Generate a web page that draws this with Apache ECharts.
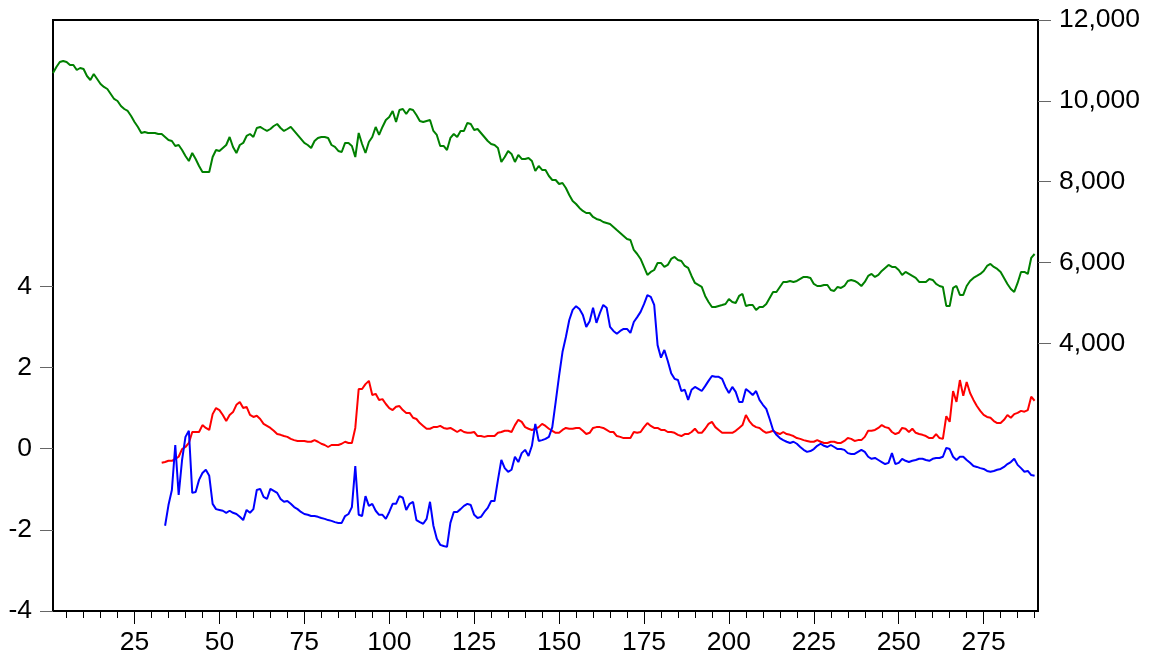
<!DOCTYPE html>
<html>
<head>
<meta charset="utf-8">
<script src="https://cdn.jsdelivr.net/npm/echarts@6.0.0/dist/echarts.min.js"></script>
<style>
html,body{margin:0;padding:0;background:#fff;}
#chart{width:1151px;height:659px;}
</style>
</head>
<body>
<div id="chart"></div>
<script>
// Observation numbers 1..291 on the category axis
const categories = Array.from({length: 291}, (_, i) => String(i + 1));

// Left-axis tick labels and right-axis tick labels
const leftTicks = [-4, -2, 0, 2, 4];
const rightTicks = [4000, 6000, 8000, 10000, 12000];

// Green series (right axis), observations 1..290
const greenValues = [
10688,10837,10960,10985,10960,10886,10886,10762,10812,10787,
10614,10515,10664,10540,10416,10342,10292,10168,10045,9995,
9871,9797,9748,9624,9476,9352,9204,9228,9204,9204,
9204,9178,9178,9104,9030,9005,8882,8906,8782,8634,
8510,8708,8560,8387,8238,8238,8238,8609,8782,8758,
8832,8906,9104,8856,8708,8906,8956,9129,9178,9104,
9327,9352,9302,9253,9302,9376,9426,9327,9253,9302,
9352,9253,9154,9055,8956,8906,8832,9005,9080,9104,
9104,9080,8906,8857,8758,8733,8956,8956,8882,8609,
9203,8931,8708,8980,9104,9352,9154,9352,9525,9599,
9748,9475,9772,9797,9673,9797,9772,9649,9500,9475,
9500,9525,9253,9154,8882,8882,8782,9080,9178,9104,
9253,9253,9451,9426,9278,9302,9203,9104,9005,8931,
8906,8832,8486,8609,8758,8684,8486,8659,8560,8560,
8584,8510,8263,8387,8288,8288,8139,8040,8040,7941,
7966,7842,7669,7520,7446,7347,7273,7223,7223,7124,
7075,7050,7000,6976,6951,6877,6802,6728,6654,6580,
6555,6308,6208,6085,5887,5689,5763,5812,5986,5986,
5887,5936,6085,6134,6060,6035,5912,5862,5664,5491,
5441,5392,5169,5020,4897,4897,4922,4946,4971,5095,
5020,4996,5169,5218,4922,4946,4946,4822,4897,4897,
4971,5120,5268,5268,5392,5516,5516,5540,5516,5540,
5590,5640,5640,5615,5466,5416,5416,5441,5441,5318,
5293,5392,5367,5416,5540,5565,5540,5491,5416,5516,
5664,5714,5640,5689,5788,5862,5936,5887,5887,5812,
5689,5763,5714,5664,5615,5516,5516,5516,5590,5565,
5466,5416,5392,4922,4922,5367,5416,5194,5194,5416,
5540,5615,5664,5714,5788,5912,5961,5887,5837,5763,
5615,5466,5342,5268,5491,5763,5763,5714,6110,6208
];

// Red series (left axis), starts at observation 33
const redStart = 33;
const redValues = [
-0.35,-0.33,-0.30,-0.30,-0.25,-0.20,-0.01,0.04,
0.14,0.41,0.41,0.41,0.58,0.51,0.46,0.85,1.00,0.95,
0.83,0.68,0.83,0.90,1.08,1.15,1.00,1.03,0.83,0.78,
0.81,0.73,0.61,0.56,0.51,0.44,0.36,0.34,0.31,0.29,
0.24,0.21,0.19,0.19,0.19,0.17,0.17,0.21,0.17,0.12,
0.09,0.04,0.09,0.09,0.09,0.12,0.17,0.14,0.14,0.51,
1.47,1.47,1.59,1.67,1.32,1.35,1.20,1.22,1.10,1.00,
0.95,1.03,1.05,0.95,0.88,0.88,0.76,0.73,0.63,0.56,
0.49,0.49,0.53,0.53,0.56,0.51,0.49,0.51,0.46,0.41,
0.46,0.41,0.39,0.39,0.41,0.31,0.31,0.29,0.31,0.31,
0.31,0.39,0.41,0.44,0.44,0.41,0.58,0.71,0.66,0.53,
0.49,0.46,0.49,0.53,0.61,0.56,0.49,0.44,0.39,0.39,
0.46,0.51,0.49,0.49,0.51,0.51,0.44,0.36,0.39,0.51,
0.53,0.53,0.51,0.46,0.41,0.41,0.31,0.29,0.26,0.26,
0.26,0.41,0.39,0.41,0.53,0.63,0.56,0.51,0.51,0.46,
0.46,0.41,0.41,0.39,0.34,0.31,0.36,0.36,0.41,0.49,
0.39,0.39,0.49,0.61,0.66,0.53,0.46,0.39,0.39,0.39,
0.39,0.44,0.51,0.58,0.83,0.68,0.58,0.53,0.51,0.44,
0.39,0.41,0.44,0.39,0.36,0.41,0.36,0.34,0.31,0.26,
0.24,0.21,0.19,0.17,0.17,0.21,0.17,0.14,0.14,0.17,
0.17,0.14,0.14,0.19,0.26,0.24,0.19,0.21,0.21,0.29,
0.44,0.44,0.46,0.51,0.58,0.53,0.51,0.41,0.36,0.39,
0.51,0.49,0.41,0.49,0.39,0.36,0.34,0.31,0.26,0.26,
0.36,0.26,0.24,0.80,0.66,1.42,1.15,1.69,1.30,1.64,
1.37,1.20,1.05,0.93,0.83,0.78,0.76,0.68,0.63,0.63,
0.71,0.83,0.76,0.85,0.88,0.93,0.91,0.95,1.28,1.18
];

// Blue series (left axis), starts at observation 34
const blueStart = 34;
const blueValues = [
-1.90,-1.39,-1.02,0.09,-1.14,-0.28,0.29,
0.44,-1.09,-1.07,-0.77,-0.60,-0.52,-0.67,-1.36,-1.49,-1.51,
-1.53,-1.58,-1.53,-1.58,-1.61,-1.68,-1.76,-1.51,-1.58,-1.49,
-1.02,-0.99,-1.19,-1.24,-0.99,-1.04,-1.09,-1.24,-1.31,-1.29,
-1.36,-1.44,-1.49,-1.56,-1.61,-1.63,-1.66,-1.66,-1.68,-1.71,
-1.73,-1.76,-1.78,-1.81,-1.83,-1.83,-1.66,-1.61,-1.44,-0.43,
-1.63,-1.66,-1.17,-1.41,-1.36,-1.53,-1.63,-1.63,-1.73,-1.56,
-1.36,-1.36,-1.17,-1.21,-1.51,-1.36,-1.31,-1.76,-1.81,-1.85,
-1.73,-1.31,-1.90,-2.22,-2.37,-2.40,-2.42,-1.83,-1.56,-1.56,
-1.49,-1.41,-1.36,-1.39,-1.63,-1.71,-1.68,-1.56,-1.46,-1.29,
-1.29,-0.77,-0.28,-0.48,-0.57,-0.52,-0.20,-0.33,-0.11,-0.03,
-0.18,0.07,0.61,0.19,0.21,0.24,0.29,0.53,1.15,1.79,
2.38,2.75,3.17,3.42,3.51,3.44,3.29,3.00,3.14,3.47,
3.10,3.34,3.54,3.47,3.00,2.90,2.83,2.90,2.95,2.95,
2.85,3.12,3.24,3.37,3.56,3.78,3.74,3.54,2.55,2.24,
2.43,2.16,1.86,1.72,1.69,1.42,1.45,1.20,1.45,1.52,
1.47,1.42,1.54,1.67,1.79,1.77,1.77,1.72,1.52,1.37,
1.52,1.40,1.15,1.15,1.47,1.40,1.32,1.42,1.20,1.08,
0.98,0.73,0.46,0.34,0.26,0.21,0.17,0.14,0.17,0.12,
0.04,-0.03,-0.08,-0.06,-0.01,0.07,0.12,0.07,0.04,0.09,
0.04,-0.01,-0.01,-0.03,-0.11,-0.13,-0.13,-0.08,-0.03,-0.08,
-0.20,-0.25,-0.23,-0.28,-0.33,-0.38,-0.35,-0.11,-0.38,-0.35,
-0.25,-0.30,-0.33,-0.30,-0.28,-0.25,-0.25,-0.28,-0.30,-0.25,
-0.23,-0.23,-0.20,0.02,-0.01,-0.20,-0.28,-0.20,-0.20,-0.28,
-0.35,-0.43,-0.45,-0.48,-0.50,-0.55,-0.57,-0.55,-0.52,-0.50,
-0.45,-0.38,-0.33,-0.25,-0.40,-0.48,-0.57,-0.55,-0.65,-0.67
];

function pad(start, values) {
  const out = [];
  for (let i = 1; i < start; i++) out.push(null);
  return out.concat(values);
}

const FONT = "'Liberation Sans', Arial, Helvetica, sans-serif";
const FS = 26.5;
const chart = echarts.init(document.getElementById('chart'), null, {renderer: 'canvas'});

chart.setOption({
  animation: false,
  backgroundColor: '#ffffff',
  grid: {left: 53, right: 113, top: 20, bottom: 48, show: true, borderColor: '#000', borderWidth: 2, backgroundColor: 'transparent'},
  xAxis: [
    {
      type: 'category', data: categories, boundaryGap: false,
      axisLine: {show: true, onZero: false, lineStyle: {color: '#000', width: 2}},
      axisTick: {show: true, length: 7, lineStyle: {color: '#000', width: 1}, interval: (i) => (i + 1) % 5 === 0},
      axisLabel: {show: false},
      splitLine: {show: false}
    },
    {
      type: 'category', data: categories, boundaryGap: false, position: 'bottom',
      axisLine: {show: false, onZero: false},
      axisTick: {show: true, length: 13, lineStyle: {color: '#000', width: 1}, interval: (i) => (i + 1) % 25 === 0},
      axisLabel: {show: true, interval: (i) => (i + 1) % 25 === 0, margin: 18, color: '#000', fontSize: FS, fontFamily: FONT},
      splitLine: {show: false}
    }
  ],
  yAxis: [
    {
      type: 'value', position: 'left', min: -4, max: 10.56,
      axisLine: {show: true, onZero: false, lineStyle: {color: '#000', width: 2}},
      axisTick: {show: true, length: 13, lineStyle: {color: '#666'}, customValues: leftTicks},
      axisLabel: {show: true, margin: 21, color: '#000', fontSize: FS, fontFamily: FONT, customValues: leftTicks},
      splitLine: {show: false}
    },
    {
      type: 'value', position: 'right', min: -2629, max: 12000,
      axisLine: {show: true, onZero: false, lineStyle: {color: '#000', width: 2}},
      axisTick: {show: true, length: 13, lineStyle: {color: '#666'}, customValues: rightTicks},
      axisLabel: {show: true, margin: 21, color: '#000', fontSize: FS, fontFamily: FONT, customValues: rightTicks,
        formatter: (v) => String(v).replace(/\B(?=(\d{3})+(?!\d))/g, ',')},
      splitLine: {show: false}
    }
  ],
  series: [
    {type: 'line', name: 'green', xAxisIndex: 0, yAxisIndex: 1, data: greenValues, showSymbol: false, symbol: 'none',
     lineStyle: {color: '#008000', width: 2}, itemStyle: {color: '#008000'}},
    {type: 'line', name: 'red', xAxisIndex: 0, yAxisIndex: 0, data: pad(redStart, redValues), showSymbol: false, symbol: 'none',
     lineStyle: {color: '#ff0000', width: 2}, itemStyle: {color: '#ff0000'}},
    {type: 'line', name: 'blue', xAxisIndex: 0, yAxisIndex: 0, data: pad(blueStart, blueValues), showSymbol: false, symbol: 'none',
     lineStyle: {color: '#0000ff', width: 2}, itemStyle: {color: '#0000ff'}}
  ]
});
</script>
</body>
</html>
